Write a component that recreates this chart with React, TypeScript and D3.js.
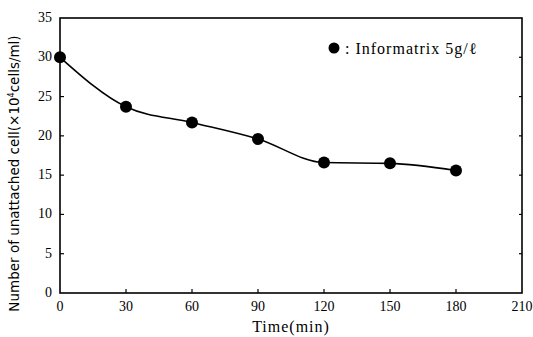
import React, { useEffect, useRef } from 'react';
import * as d3 from 'd3';

// values
const times = [0, 30, 60, 90, 120, 150, 180];
const cells = [30, 23.7, 21.7, 19.6, 16.6, 16.5, 15.6];
const xTicks = [0, 30, 60, 90, 120, 150, 180, 210];
const yTicks = [0, 5, 10, 15, 20, 25, 30, 35];
const legendLabel = ': Informatrix 5g/ℓ';

export default function App() {
  const svgRef = useRef<SVGSVGElement>(null);

  useEffect(() => {
    const width = 533;
    const height = 337;
    const margin = { top: 18, right: 11, bottom: 44, left: 60 };
    const svg = d3.select(svgRef.current);
    svg.selectAll('*').remove();

    const x = d3.scaleLinear().domain([0, 210]).range([margin.left, width - margin.right]);
    const y = d3.scaleLinear().domain([0, 35]).range([height - margin.bottom, margin.top]);

    const serif = '"Liberation Serif", "DejaVu Serif", serif';

    // frame
    svg.append('rect')
      .attr('x', x(0)).attr('y', y(35))
      .attr('width', x(210) - x(0)).attr('height', y(0) - y(35))
      .attr('fill', 'none').attr('stroke', '#000').attr('stroke-width', 1.6);

    // x ticks (inward)
    svg.append('g').selectAll('line').data(xTicks.slice(1, -1)).enter().append('line')
      .attr('x1', d => x(d)).attr('x2', d => x(d))
      .attr('y1', y(0)).attr('y2', y(0) - 4)
      .attr('stroke', '#000').attr('stroke-width', 1.2);

    svg.append('g').selectAll('text').data(xTicks).enter().append('text')
      .attr('x', d => x(d)).attr('y', y(0) + 18)
      .attr('text-anchor', 'middle')
      .style('font-family', serif).style('font-size', '14px')
      .text(d => d);

    // y ticks on both sides (inward)
    const yt = svg.append('g');
    yt.selectAll('line.l').data(yTicks.slice(1, -1)).enter().append('line')
      .attr('x1', x(0)).attr('x2', x(0) + 4)
      .attr('y1', d => y(d)).attr('y2', d => y(d))
      .attr('stroke', '#000').attr('stroke-width', 1.2);
    yt.selectAll('line.r').data(yTicks.slice(1, -1)).enter().append('line')
      .attr('x1', x(210)).attr('x2', x(210) - 3)
      .attr('y1', d => y(d)).attr('y2', d => y(d))
      .attr('stroke', '#000').attr('stroke-width', 1.2);

    svg.append('g').selectAll('text').data(yTicks).enter().append('text')
      .attr('x', x(0) - 8).attr('y', d => y(d) + 4)
      .attr('text-anchor', 'end')
      .style('font-family', serif).style('font-size', '14px')
      .text(d => d);

    // smooth curve
    const pts = times.map((t, i) => [t, cells[i]] as [number, number]);
    const line = d3.line<[number, number]>()
      .x(d => x(d[0])).y(d => y(d[1]))
      .curve(d3.curveMonotoneX);
    svg.append('path')
      .attr('d', line(pts))
      .attr('fill', 'none').attr('stroke', '#000').attr('stroke-width', 1.6);

    svg.append('g').selectAll('circle').data(pts).enter().append('circle')
      .attr('cx', d => x(d[0])).attr('cy', d => y(d[1]))
      .attr('r', 6).attr('fill', '#000');

    // legend
    svg.append('circle').attr('cx', 334).attr('cy', 48).attr('r', 5.5).attr('fill', '#000');
    svg.append('text')
      .attr('x', 345).attr('y', 54)
      .style('font-family', serif).style('font-size', '16px').style('letter-spacing', '1px')
      .text(legendLabel);

    // axis titles
    svg.append('text')
      .attr('x', x(105)).attr('y', height - 5)
      .attr('text-anchor', 'middle')
      .style('font-family', serif).style('font-size', '16px').style('letter-spacing', '1px')
      .text('Time(min)');

    const yl = svg.append('text')
      .attr('transform', `translate(19, ${(y(0) + y(35)) / 2 + 18}) rotate(-90)`)
      .attr('text-anchor', 'middle')
      .style('font-family', '"DejaVu Sans", sans-serif').style('font-size', '13.5px');
    yl.append('tspan').text('Number of unattached cell(×10');
    yl.append('tspan').attr('dy', -5).style('font-size', '8px').text('4');
    yl.append('tspan').attr('dy', 5).text('cells/ml)');
  }, []);

  return (
    <svg ref={svgRef} width={533} height={337}
      style={{ position: 'absolute', left: 0, top: 0, background: '#fff' }} />
  );
}
